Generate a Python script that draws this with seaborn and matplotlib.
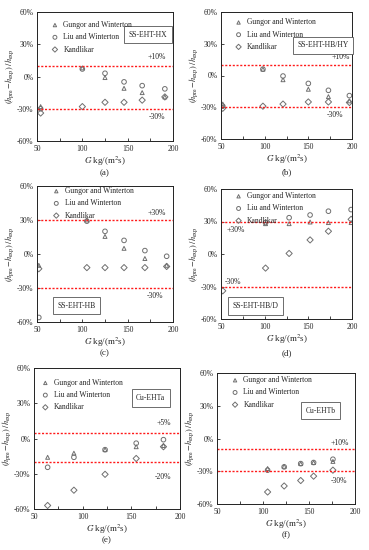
import numpy as np
import pandas as pd
import matplotlib
matplotlib.use("Agg")
import matplotlib.pyplot as plt
import seaborn as sns
from matplotlib.ticker import MultipleLocator, FuncFormatter

sns.set_style("ticks")
plt.rcParams['font.family'] = ['Liberation Serif', 'DejaVu Serif']
plt.rcParams['mathtext.fontset'] = 'stix'

nan = np.nan
series_names = ["Gungor and Winterton", "Liu and Winterton", "Kandlikar"]

# (a) SS-EHT-HX
G_a = [54, 100, 125, 146, 166, 191]
gw_a = [-28, 8, -1, -11, -15, -19]
lw_a = [-30, 7, 3, -5, -8.5, -11.5]
kd_a = [-34, -28, -24, -24, -22, -19]
# (b) SS-EHT-HB/HY
G_b = [52, 98, 121, 150, 173, 197]
gw_b = [-27, 6, -4, -13, -20, -24]
lw_b = [-29, 6, -0.5, -7.5, -14, -19]
kd_b = [-31, -29, -27, -25, -25, -25.5]
# (c) SS-EHT-HB
G_c = [52, 105, 125, 146, 169, 193]
gw_c = [-10, 30, 15.5, 5, -4, -10]
lw_c = [-56, 29, 20, 12, 3, -2]
kd_c = [-13, -12, -12, -12, -12, -11]
# (d) SS-EHT-HB/D
G_d = [52, 101, 128, 152, 173, 199]
gw_d = [nan, 28, 28, 29.5, 29, 29]
lw_d = [nan, 29, 33.5, 36, 39.5, 41]
kd_d = [-34, -13, 0.5, 13, 21, 32]
# (e) Cu-EHTa
G_e = [64, 91, 123, 155, 183]
gw_e = [-16, -12.5, -9.5, -7, -6]
lw_e = [-24.5, -16, -9.5, -4, -1]
kd_e = [-57, -44, -30.5, -17, -7]
# (f) Cu-EHTb
G_f = [105, 123, 141, 155, 176]
gw_f = [-27.5, -25.5, -23, -22, -21]
lw_f = [-29, -26, -23, -22, -19]
kd_f = [-49, -43.5, -38.5, -34.5, -29]

panel_letters = ["(a)", "(b)", "(c)", "(d)", "(e)", "(f)"]
sample_names = ["SS-EHT-HX", "SS-EHT-HB/HY", "SS-EHT-HB", "SS-EHT-HB/D", "Cu-EHTa", "Cu-EHTb"]
bound_values = [(10, -30), (10, -30), (30, -30), (30, -30), (5, -20), (-10, -30)]
bound_labels = [("+10%", "-30%"), ("+10%", "-30%"), ("+30%", "-30%"), ("+30%", "-30%"),
                ("+5%", "-20%"), ("+10%", "-30%")]

panels = [
    (G_a, gw_a, lw_a, kd_a), (G_b, gw_b, lw_b, kd_b), (G_c, gw_c, lw_c, kd_c),
    (G_d, gw_d, lw_d, kd_d), (G_e, gw_e, lw_e, kd_e), (G_f, gw_f, lw_f, kd_f),
]

W, H = 369, 550
boxes_px = [  # left, right, top, bottom in pixels
    (37, 173, 12, 141), (221, 352, 12, 139),
    (37, 173, 186, 322), (221, 352, 189, 319),
    (34, 180, 368, 509), (217, 355, 373, 504),
]
label_pos = [  # upper label (x, y), lower label (x, y)
    ((182, 18), (182, -38)), ((187, 17.5), (180, -37)),
    ((182, 36), (180, -37)), ((67, 22.5), (64, -25.5)),
    ((183.5, 13), (182, -32.5)), ((183, -4), (183, -39)),
]
name_pos = [(172, 39), (167, 28.7), (93.6, -45.5), (89.5, -48), (170, 34.4), (162.8, 25.6)]
legend_anchor = [(0.07, 0.965), (0.07, 0.985), (0.08, 1.025), (0.07, 1.01), (0.02, 0.955), (0.07, 1.01)]
panel_label_y = [173, 172, 353, 353, 540, 535]

markers = {"Gungor and Winterton": "^", "Liu and Winterton": "o", "Kandlikar": "D"}
sizes = {"Gungor and Winterton": 8, "Liu and Winterton": 11, "Kandlikar": 10}
mcol = "#6f6f6f"

fig = plt.figure(figsize=(W / 100, H / 100), dpi=100)

for i, (G, gw, lw, kd) in enumerate(panels):
    l, r, t, b = boxes_px[i]
    ax = fig.add_axes([l / W, 1 - b / H, (r - l) / W, (b - t) / H])
    df = pd.DataFrame({"G": list(G) * 3,
                       "dev": list(gw) + list(lw) + list(kd),
                       "model": [series_names[0]] * len(G) + [series_names[1]] * len(G) + [series_names[2]] * len(G)})
    for name in series_names:
        sub = df[df.model == name].dropna()
        sns.scatterplot(data=sub, x="G", y="dev", ax=ax, marker=markers[name], s=sizes[name],
                        facecolor="none", edgecolor=mcol, linewidth=0.7, label=name)
    hi, lo = bound_values[i]
    ax.axhline(hi, color="#ff1a1a", ls=(0, (1.5, 1.2)), lw=1.0, zorder=1)
    ax.axhline(lo, color="#ff1a1a", ls=(0, (1.5, 1.2)), lw=1.0, zorder=1)
    (ux, uy), (lx, ly) = label_pos[i]
    ax.text(ux, uy, bound_labels[i][0], fontsize=5.5, ha="center", va="center")
    ax.text(lx, ly, bound_labels[i][1], fontsize=5.5, ha="center", va="center")
    nx, ny = name_pos[i]
    ax.text(nx, ny, sample_names[i], fontsize=5.5, ha="center", va="center",
            bbox=dict(boxstyle="square,pad=0.6", fc="white", ec="#555555", lw=0.6))
    ax.set_xlim(50, 200)
    ax.set_ylim(-60, 60)
    ax.xaxis.set_major_locator(MultipleLocator(50))
    ax.xaxis.set_minor_locator(MultipleLocator(25))
    ax.yaxis.set_major_locator(MultipleLocator(30))
    ax.yaxis.set_major_formatter(FuncFormatter(lambda v, p: f"{v:.0f}%"))
    ax.tick_params(direction="in", which="both", length=2.5, width=0.6, labelsize=5.5)
    ax.tick_params(axis="x", pad=3)
    ax.tick_params(axis="y", pad=2.5)
    for s in ax.spines.values():
        s.set_linewidth(0.7)
        s.set_color("#222222")
    ax.set_xlabel(r"$G$ kg/(m$^{2}$s)", fontsize=6.5, labelpad=1)
    ax.set_ylabel(r"$(h_{\rm pre}\!-\!h_{\rm exp})\ /h_{\rm exp}$", fontsize=6, labelpad=0.5)
    cx = (l + r) / 2 / W
    fig.text(cx, 1 - panel_label_y[i] / H, panel_letters[i], fontsize=6.5, ha="center", va="center")
    ax.legend(loc="upper left", bbox_to_anchor=legend_anchor[i], frameon=False, fontsize=5.5,
              handletextpad=0.6, labelspacing=0.55, borderaxespad=0.2, handlelength=1.0,
              markerscale=0.85)

fig.savefig("out.png", dpi=100)
